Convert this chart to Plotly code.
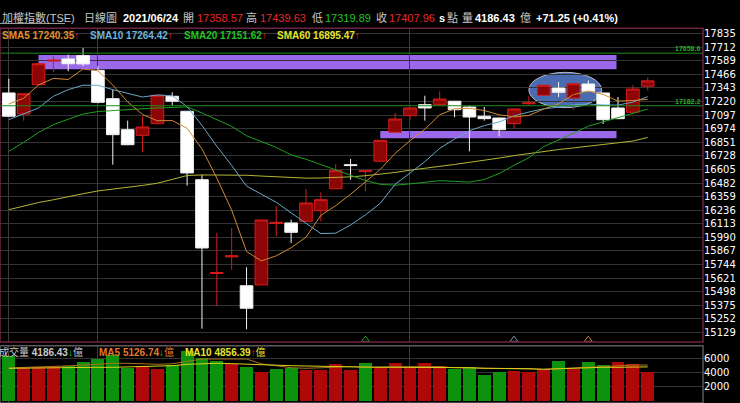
import plotly.graph_objects as go

# ---------------- data ----------------
idx = list(range(44))
opens = [17298, 17107, 17373, 17587, 17606, 17636, 17503, 17246, 16965, 16914,
         17020, 17268, 17132, 16512, 15662, 15812, 15551, 15558, 16115, 16120,
         16135, 16231, 16430, 16648, 16585, 16679, 16942, 17092, 17192, 17192,
         17223, 17171, 17087, 17071, 17020, 17200, 17277, 17343, 17252, 17379,
         17298, 17162, 17123, 17358.57]
highs = [17427, 17295, 17570, 17630, 17645, 17706, 17540, 17328, 17047, 17087,
         17282, 17304, 17135, 16557, 16029, 16074, 15718, 16150, 16271, 16150,
         16428, 16398, 16654, 16700, 16597, 16872, 17117, 17170, 17273, 17313,
         17226, 17186, 17171, 17075, 17160, 17268, 17370, 17398, 17384, 17413,
         17300, 17262, 17368, 17439.63]
lows = [17080, 17047, 17365, 17485, 17494, 17540, 17205, 16648, 16825, 16760,
        17015, 17183, 16458, 15162, 15365, 15696, 15156, 15555, 15999, 15938,
        16130, 16135, 16428, 16512, 16407, 16676, 16940, 17056, 17047, 17190,
        17078, 16769, 17047, 16905, 16972, 17192, 17275, 17262, 17146, 17310,
        17017, 17060, 17120, 17319.89]
closes = [17087, 17291, 17563, 17595, 17563, 17561, 17213, 16920, 16829, 16990,
          17277, 17223, 16573, 15893, 15670, 15822, 15347, 16147, 16125, 16035,
          16301, 16331, 16594, 16640, 16592, 16869, 17062, 17162, 17162, 17243,
          17146, 17080, 17065, 16965, 17153, 17208, 17368, 17304, 17382, 17313,
          17056, 17065, 17334, 17407.96]

sma5 = [17198, 17250, 17370, 17430, 17420, 17515, 17499, 17370, 17217, 17103,
        17046, 17048, 16978, 16791, 16527, 16236, 15861, 15776, 15822, 15895,
        15991, 16188, 16277, 16380, 16492, 16605, 16751, 16865, 16969, 17100,
        17155, 17159, 17139, 17100, 17082, 17094, 17152, 17200, 17283, 17315,
        17285, 17224, 17230, 17240]
sma10 = [17056, 17110, 17162, 17268, 17328, 17368, 17368, 17328, 17291, 17261,
         17280, 17273, 17174, 17004, 16815, 16641, 16454, 16377, 16307, 16211,
         16114, 16024, 16027, 16101, 16193, 16298, 16470, 16571, 16675, 16796,
         16880, 16955, 17002, 17035, 17091, 17125, 17155, 17169, 17191, 17198,
         17189, 17188, 17215, 17264]
sma20 = [16769, 16850, 16940, 17011, 17060, 17107, 17130, 17140, 17150, 17155,
         17162, 17170, 17172, 17117, 17056, 16995, 16910, 16860, 16805, 16736,
         16697, 16649, 16600, 16553, 16504, 16470, 16462, 16474, 16491, 16503,
         16497, 16490, 16514, 16568, 16642, 16711, 16812, 16870, 16933, 16997,
         17035, 17071, 17108, 17152]
sma60 = [16240, 16275, 16305, 16330, 16360, 16385, 16410, 16425, 16445, 16460,
         16480, 16515, 16550, 16555, 16555, 16555, 16552, 16545, 16538, 16530,
         16526, 16527, 16530, 16538, 16548, 16560, 16578, 16598, 16618, 16633,
         16650, 16668, 16688, 16708, 16730, 16750, 16768, 16785, 16800, 16815,
         16830, 16842, 16862, 16895]

volume = [6470, 4650, 4790, 4980, 5030, 5520, 5990, 6570, 4650, 4980,
          4550, 5130, 7150, 6090, 5700, 5230, 4880, 4160, 4510, 4740,
          4400, 4400, 5230, 4400, 5370, 4880, 5370, 4880, 5370, 5030,
          4510, 4880, 3680, 4160, 4260, 4160, 4510, 5750, 4510, 5520,
          5130, 5520, 5230, 4186.43]
vol_up = [0, 1, 1, 1, 0, 0, 0, 0, 0, 1, 1, 0, 0, 0, 0, 1, 0, 1, 0, 0,
          1, 1, 1, 1, 0, 1, 1, 1, 1, 1, 0, 0, 0, 0, 1, 1, 1, 0, 1, 0,
          0, 1, 1, 1]
vol_ma5 = [4700, 4750, 4800, 4850, 5000, 5100, 5250, 5372, 5372, 5300,
           5227, 5300, 5700, 5990, 5990, 5990, 5990, 5300, 5025, 4736,
           4650, 4700, 4794, 4881, 4794, 4881, 4881, 4881, 4881, 4881,
           4736, 4700, 4650, 4550, 4505, 4505, 4505, 4600, 4650, 4800,
           4881, 5025, 5126, 5126.74]
vol_ma10 = [4650, 4690, 4736, 4736, 4794, 4794, 4794, 4794, 4840, 4840,
            4881, 5025, 5227, 5320, 5372, 5320, 5227, 5180, 5080, 5025,
            4980, 4930, 4881, 4840, 4794, 4794, 4794, 4794, 4794, 4794,
            4794, 4736, 4650, 4650, 4650, 4600, 4505, 4600, 4690, 4736,
            4794, 4794, 4800, 4856.39]

price_ticks = [17835, 17712, 17589, 17466, 17343, 17220, 17097, 16974, 16851,
               16728, 16605, 16482, 16359, 16236, 16113, 15990, 15867, 15744,
               15621, 15498, 15375, 15252, 15129]
vol_ticks = [2000, 4000, 6000]
month_idx = [0, 6, 27]
level_lines = [17658.6, 17182.2]
upper_zone = (2, 40.9, 17513, 17642)
lower_zone = (25, 40.9, 16887, 16953)
ellipse_zone = (35.0, 39.9, 17165, 17485)
signal_idx = [24, 34, 39]
signal_colors = ['#2aa02a', '#7f90b0', '#c8842c']

# ---------------- figure ----------------
W, H = 740, 403
R = 37
main_dom = [1 - 342 / H, 1 - 28.3 / H]
vol_dom = [0, 1 - 345.7 / H]
xr = [-0.592, 46.72]

fig = go.Figure()
fig.add_trace(go.Candlestick(
    x=idx, open=opens, high=highs, low=lows, close=closes,
    increasing=dict(line=dict(color='#d41c1c', width=1), fillcolor='#8e0505'),
    decreasing=dict(line=dict(color='#f2f2f2', width=1), fillcolor='#ffffff'),
    whiskerwidth=0, showlegend=False, hoverinfo='skip', xaxis='x', yaxis='y'))

for arr, col in [(sma60, '#b5b536'), (sma20, '#1f9f1f'), (sma10, '#6aa6c8'), (sma5, '#d08a34')]:
    fig.add_trace(go.Scatter(x=idx, y=arr, mode='lines', line=dict(color=col, width=1),
                             showlegend=False, hoverinfo='skip', xaxis='x', yaxis='y'))

fig.add_trace(go.Scatter(x=signal_idx, y=[15062] * len(signal_idx), mode='markers',
                         marker=dict(symbol='triangle-up-open', size=7, color=signal_colors,
                                     line=dict(width=1)),
                         showlegend=False, hoverinfo='skip', xaxis='x', yaxis='y'))

vol_colors = ['#b00808' if u else '#0c920c' for u in vol_up]
fig.add_trace(go.Bar(x=idx, y=volume, width=0.87, marker=dict(color=vol_colors, line=dict(width=0)),
                     showlegend=False, hoverinfo='skip', xaxis='x2', yaxis='y2'))
fig.add_trace(go.Scatter(x=idx, y=vol_ma5, mode='lines', line=dict(color='#a8741c', width=1),
                         showlegend=False, hoverinfo='skip', xaxis='x2', yaxis='y2'))
fig.add_trace(go.Scatter(x=idx, y=vol_ma10, mode='lines', line=dict(color='#d8d21e', width=1),
                         showlegend=False, hoverinfo='skip', xaxis='x2', yaxis='y2'))

shapes = []
purple = '#9a68e8'
for (x0, x1, y0, y1) in [upper_zone, lower_zone]:
    shapes.append(dict(type='rect', xref='x', yref='y', x0=x0, x1=x1, y0=y0, y1=y1,
                       fillcolor=purple, line=dict(width=0), layer='below'))
ex0, ex1, ey0, ey1 = ellipse_zone
shapes.append(dict(type='circle', xref='x', yref='y', x0=ex0, x1=ex1, y0=ey0, y1=ey1,
                   fillcolor='#4a6bb0', line=dict(color='#b8bcc8', width=1), layer='below'))
for lv in level_lines:
    shapes.append(dict(type='line', xref='paper', yref='y', x0=0, x1=1, y0=lv, y1=lv,
                       line=dict(color='#1d8c1d', width=1), layer='above'))
# panel borders
shapes.append(dict(type='rect', xref='paper', yref='paper', x0=0, x1=1, y0=main_dom[0], y1=main_dom[1],
                   line=dict(color='#6e2442', width=1.5), layer='above'))
shapes.append(dict(type='rect', xref='paper', yref='paper', x0=0, x1=1, y0=vol_dom[0], y1=vol_dom[1],
                   line=dict(color='#5a5a5a', width=1.5), layer='above'))
# underline of title
shapes.append(dict(type='line', xref='paper', yref='paper', x0=0, x1=65 / (W - R),
                   y0=1 - 23.5 / H, y1=1 - 23.5 / H, line=dict(color='#9a9a9a', width=1)))

FONT = 'Liberation Sans, Arial, Noto Sans CJK TC, sans-serif'
ann = []


def txt(px, py, text, color, size=11, bold=False):
    t = '<b>%s</b>' % text if bold else text
    ann.append(dict(xref='paper', yref='paper', x=px / (W - R), y=1 - py / H, text=t,
                    showarrow=False, xanchor='left', yanchor='middle',
                    font=dict(family=FONT, size=size, color=color)))


grey = '#c8c8c8'
red = '#e8262a'
green = '#22c422'
row1 = 18
txt(0, row1, '加權指數(TSE)', grey)
txt(82, row1, '日線圖', grey)
txt(121, row1, '2021/06/24', '#ffffff', bold=True)
txt(181, row1, '開', grey)
txt(195, row1, '17358.57', red)
txt(244, row1, '高', grey)
txt(258, row1, '17439.63', red)
txt(310, row1, '低', grey)
txt(323, row1, '17319.89', green)
txt(374, row1, '收', grey)
txt(387, row1, '17407.96', red)
txt(437, row1, 's', '#ffffff', bold=True)
txt(445, row1, '點', grey)
txt(460, row1, '量', grey)
txt(473, row1, '4186.43', '#ffffff', bold=True)
txt(518, row1, '億', grey)
txt(534, row1, '+71.25 (+0.41%)', '#ffffff', bold=True)

row2 = 35
up = "<span style='color:#ff2020'>↑</span>"
dn = "<span style='color:#22c422'>↓</span>"
txt(0, row2, 'SMA5 17240.35' + up, '#e0902e', size=10, bold=True)
txt(88, row2, 'SMA10 17264.42' + up, '#6cb4dc', size=10, bold=True)
txt(182, row2, 'SMA20 17151.62' + up, '#22c422', size=10, bold=True)
txt(275, row2, 'SMA60 16895.47' + up, '#e4e42c', size=10, bold=True)

row3 = 351.5
txt(-3, row3, '成交量 <b>4186.43</b>' + dn + '億', grey, size=10)
txt(97, row3, '<b>MA5 5126.74</b>' + dn + '億', '#e07a2a', size=10)
txt(183, row3, '<b>MA10 4856.39</b>' + up + '億', '#e4e42c', size=10)

for lv in level_lines:
    ann.append(dict(xref='paper', yref='y', x=0.999, y=lv, text='<b>%.1f</b>' % lv,
                    showarrow=False, xanchor='right', yanchor='bottom', yshift=-1,
                    font=dict(family=FONT, size=7, color='#22b022')))

axis_font = dict(family='DejaVu Sans, sans-serif', size=10, color='#ffffff')
fig.update_layout(
    width=W, height=H, template='none',
    margin=dict(l=0, r=R, t=0, b=0, pad=0),
    paper_bgcolor='#000000', plot_bgcolor='#000000',
    boxgap=0.15, boxgroupgap=0,
    bargap=0, showlegend=False,
    xaxis=dict(domain=[0, 1], range=xr, anchor='y', showticklabels=False, tickvals=month_idx,
               showgrid=True, gridcolor='#3a3a3a', gridwidth=1, zeroline=False, showline=False,
               ticks='', rangeslider=dict(visible=False), automargin=False, fixedrange=True),
    yaxis=dict(domain=main_dom, range=[15041, 17884], side='right', anchor='x',
               tickvals=price_ticks, ticktext=[str(v) for v in price_ticks],
               tickfont=axis_font, showgrid=True, gridcolor='#343434', gridwidth=1,
               zeroline=False, ticks='', showline=False, automargin=False),
    xaxis2=dict(domain=[0, 1], range=xr, anchor='y2', matches='x', showticklabels=False,
                tickvals=month_idx, showgrid=True, gridcolor='#3a3a3a', zeroline=False,
                ticks='', showline=False, automargin=False),
    yaxis2=dict(domain=vol_dom, range=[-361, 7913], side='right', anchor='x2',
                tickvals=vol_ticks, tickfont=axis_font, showgrid=True, gridcolor='#343434',
                zeroline=False, ticks='', showline=False, automargin=False),
    shapes=shapes, annotations=ann,
)

fig.write_html('out.html', config={'displayModeBar': False, 'staticPlot': True},
               post_script="document.body.style.margin='0';document.body.style.padding='0';"
                           "document.body.style.background='#000';document.body.style.overflow='hidden';")
